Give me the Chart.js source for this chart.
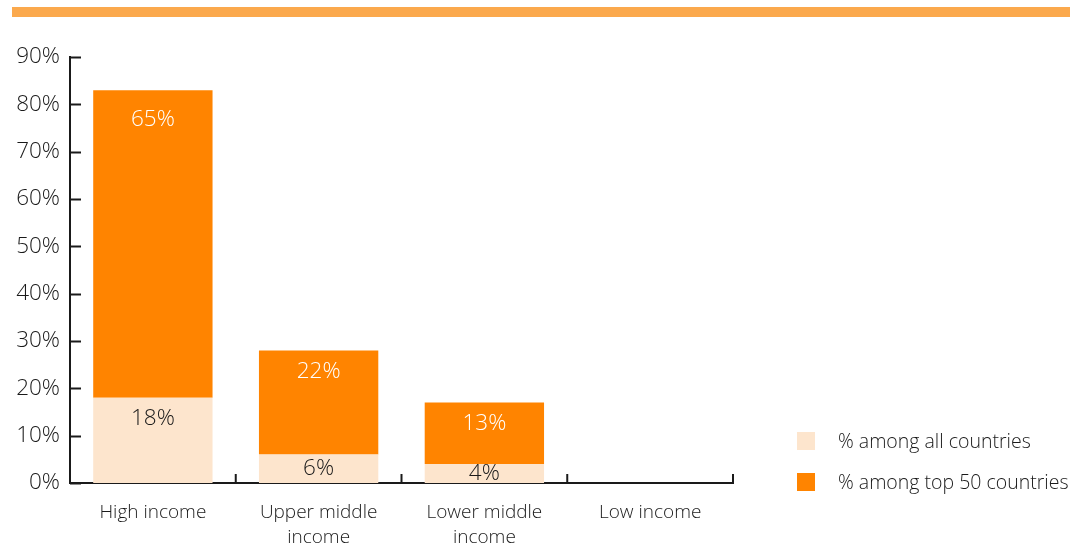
<!DOCTYPE html>
<html>
<head>
<meta charset="utf-8">
<script src="https://cdn.jsdelivr.net/npm/chart.js@4"></script>
<style>
html,body{margin:0;padding:0;background:#fff;}
#wrap{width:1082px;height:544px;position:relative;}
</style>
</head>
<body>
<div id="wrap"><canvas id="c" width="1082" height="544"></canvas></div>
<script>
const categories = [["High income"], ["Upper middle", "income"], ["Lower middle", "income"], ["Low income"]];
const allCountries = [18, 6, 4, 0];
const top50Countries = [65, 22, 13, 0];
const seriesNames = ["% among all countries", "% among top 50 countries"];
const yTicks = [0, 10, 20, 30, 40, 50, 60, 70, 80, 90];

const FONT = "'Open Sans', 'Noto Sans', sans-serif";
const PEACH = '#FDE5CD';
const ORANGE = '#FF8400';
const STRIP = '#FBA94D';
const AXIS = '#1a1a1a';
const TEXT = '#1a1a1a';

const decor = {
  id: 'decor',
  beforeDraw(chart) {
    const ctx = chart.ctx;
    ctx.save();
    ctx.fillStyle = STRIP;
    ctx.fillRect(12, 7, 1058, 10);
    ctx.restore();
  },
  afterDraw(chart) {
    const ctx = chart.ctx;
    const x = chart.scales.x, y = chart.scales.y;
    ctx.save();
    ctx.strokeStyle = AXIS;
    ctx.lineWidth = 2;
    yTicks.forEach(v => {
      const py = Math.round(y.getPixelForValue(v)) + 0.5;
      ctx.beginPath();
      ctx.moveTo(x.left, py);
      ctx.lineTo(x.left + 11, py);
      ctx.stroke();
    });
    const n = categories.length;
    for (let i = 0; i <= n; i++) {
      const px = x.left + (x.right - x.left) * i / n;
      ctx.beginPath();
      ctx.moveTo(px, y.bottom);
      ctx.lineTo(px, y.bottom - 9);
      ctx.stroke();
    }
    ctx.font = '300 22.5px ' + FONT;
    ctx.textAlign = 'center';
    ctx.textBaseline = 'middle';
    chart.data.datasets.forEach((ds, di) => {
      const meta = chart.getDatasetMeta(di);
      meta.data.forEach((bar, i) => {
        const v = ds.data[i];
        if (!v) return;
        const top = Math.min(bar.y, bar.base);
        const h = Math.abs(bar.base - bar.y);
        const cy = top + Math.min(h > 200 ? 29 : 21, h / 2);
        ctx.fillStyle = di === 0 ? TEXT : '#fff';
        ctx.fillText(v + '%', bar.x, cy);
      });
    });
    ctx.font = '300 19.5px ' + FONT;
    ctx.textAlign = 'left';
    chart.data.datasets.forEach((ds, di) => {
      const ly = 432 + di * 41;
      ctx.fillStyle = ds.backgroundColor;
      ctx.fillRect(797, ly, 18, 18);
      ctx.fillStyle = TEXT;
      ctx.fillText(ds.label, 838, ly + 10);
    });
    ctx.restore();
  }
};

new Chart(document.getElementById('c'), {
  type: 'bar',
  data: {
    labels: categories,
    datasets: [
      { label: seriesNames[0], data: allCountries, backgroundColor: PEACH, categoryPercentage: 0.72, barPercentage: 1 },
      { label: seriesNames[1], data: top50Countries, backgroundColor: ORANGE, categoryPercentage: 0.72, barPercentage: 1 }
    ]
  },
  options: {
    responsive: false,
    animation: false,
    devicePixelRatio: 1,
    layout: { padding: { top: 57, right: 349, left: 0, bottom: 0 } },
    plugins: { legend: { display: false }, tooltip: { enabled: false } },
    scales: {
      x: {
        stacked: true,
        grid: { display: false, drawTicks: false },
        border: { display: true, color: AXIS, width: 2 },
        ticks: { color: TEXT, font: { family: FONT, size: 19, weight: 300, lineHeight: 1.27 }, padding: 18, maxRotation: 0, autoSkip: false },
        afterFit(s) { s.height = 61; }
      },
      y: {
        stacked: true,
        min: 0, max: 90,
        afterBuildTicks(s) { s.ticks = yTicks.map(v => ({ value: v })); },
        grid: { display: false, drawTicks: false },
        border: { display: true, color: AXIS, width: 2 },
        ticks: { color: TEXT, font: { family: FONT, size: 22.5, weight: 300 }, padding: 10, callback: v => v + '%' },
        afterFit(s) { s.width = 70; }
      }
    }
  },
  plugins: [decor]
});
</script>
</body>
</html>
